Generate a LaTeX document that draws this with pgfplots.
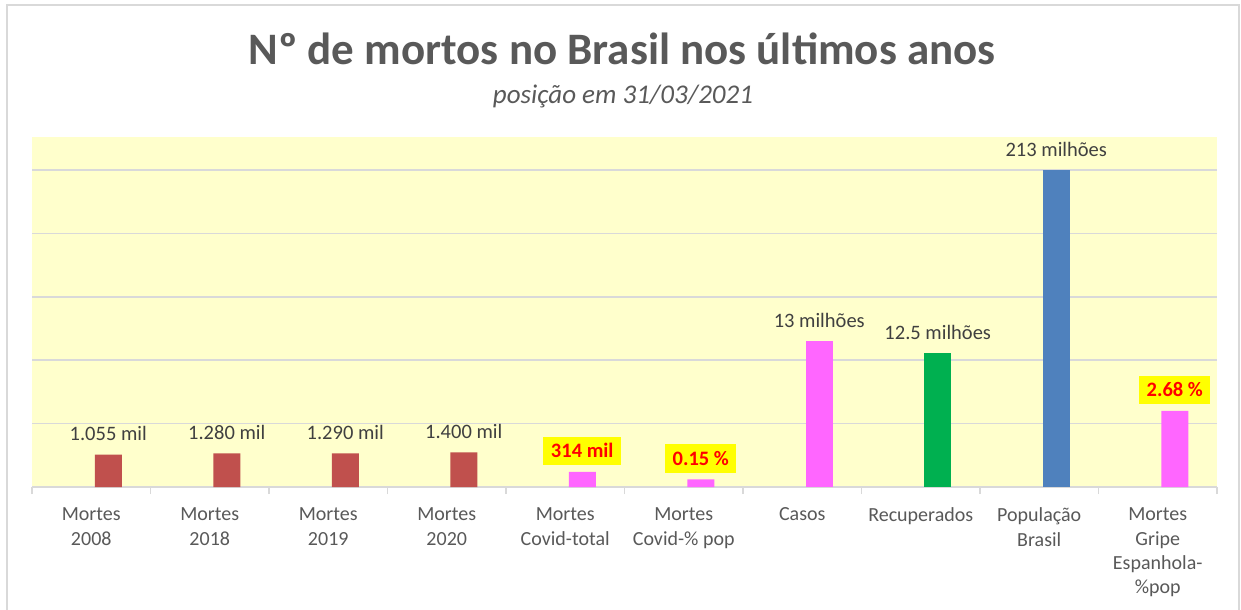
\documentclass[border=0pt]{standalone}
\usepackage{pgfplots}
\pgfplotsset{compat=1.18}
\usepackage{fontspec}
\setmainfont{Carlito}
\definecolor{txtgray}{HTML}{595959}
\definecolor{lblgray}{HTML}{404040}
\definecolor{bgyellow}{HTML}{FFFFCC}
\definecolor{gridgray}{HTML}{D9D9D9}
\definecolor{cred}{HTML}{C0504D}
\definecolor{cmag}{HTML}{FF66FF}
\definecolor{cgreen}{HTML}{00B050}
\definecolor{cblue}{HTML}{4F81BD}
\definecolor{hlyellow}{HTML}{FFFF00}
\definecolor{hlred}{HTML}{FF0000}
\begin{document}
\begin{tikzpicture}[x=1bp,y=1bp]
\useasboundingbox (0,0) rectangle (1241,-610);
\fill[white] (0,0) rectangle (1241,-610);
\draw[gridgray, line width=2bp] (7,-620) -- (7,-5) -- (1239,-5) -- (1239,-620);
\node[anchor=base, text=txtgray, font=\fontsize{45bp}{54bp}\selectfont\bfseries] at (622,-65) {Nº de mortos no Brasil nos últimos anos};
\node[anchor=base, text=txtgray, font=\fontsize{27bp}{32bp}\selectfont\itshape] at (623,-104) {posição em 31/03/2021};
\begin{axis}[
  scale only axis,
  width=1185bp, height=350bp,
  anchor=south west, at={(32bp,-487bp)},
  xmin=-0.5, xmax=9.5, ymin=0, ymax=5.52,
  axis background/.style={fill=bgyellow},
  axis x line*=bottom, axis y line*=left,
  x axis line style={draw=gridgray, line width=1.5bp},
  y axis line style={draw=none},
  ytick={1,2,3,4,5}, yticklabels={}, ytick style={draw=none},
  ymajorgrids, grid style={draw=gridgray, line width=1.5bp},
  xtick={0,...,9},
  xtick style={draw=none},
  xticklabels={{Mortes\\2008},{Mortes\\2018},{Mortes\\2019},{Mortes\\2020},{Mortes\\Covid-total},{Mortes\\Covid-\% pop},{Casos},{Recuperados},{População\\Brasil},{Mortes\\Gripe\\Espanhola-\\\%pop}},
  xticklabel style={align=center, anchor=north, text=txtgray, font=\fontsize{20bp}{24.4bp}\selectfont, yshift=-13bp},
  extra x ticks={-0.5,0.5,...,9.5},
  extra x tick labels={},
  extra x tick style={grid=none, tick align=outside, major tick length=7bp, xtick style={draw=gridgray, line width=1.5bp}},
  ybar, bar width=27bp, bar shift=17bp,
  point meta=explicit symbolic,
  nodes near coords,
  every node near coord/.append style={anchor=center, yshift=21bp},
]
\addplot[fill=cred, draw=none, nodes near coords style={text=lblgray, font=\fontsize{20.5bp}{24bp}\selectfont}]
  coordinates {(0,0.51) [1.055 mil] (1,0.53) [1.280 mil] (2,0.53) [1.290 mil] (3,0.545) [1.400 mil]};
\addplot[fill=cmag, draw=none, nodes near coords style={text=lblgray, font=\fontsize{20.5bp}{24bp}\selectfont}]
  coordinates {(6,2.30) [13 milhões]};
\addplot[fill=cgreen, draw=none, nodes near coords style={text=lblgray, font=\fontsize{20.5bp}{24bp}\selectfont}]
  coordinates {(7,2.11) [12.5 milhões]};
\addplot[fill=cblue, draw=none, nodes near coords style={text=lblgray, font=\fontsize{20.5bp}{24bp}\selectfont}]
  coordinates {(8,5.0) [213 milhões]};
\addplot[fill=cmag, draw=none, nodes near coords style={text=hlred, fill=hlyellow, inner xsep=7.5bp, inner ysep=7bp, font=\fontsize{20.5bp}{24bp}\selectfont\bfseries}]
  coordinates {(4,0.24) [314 mil] (5,0.12) [0.15 \%] (9,1.20) [2.68 \%]};
\end{axis}
\end{tikzpicture}
\end{document}
